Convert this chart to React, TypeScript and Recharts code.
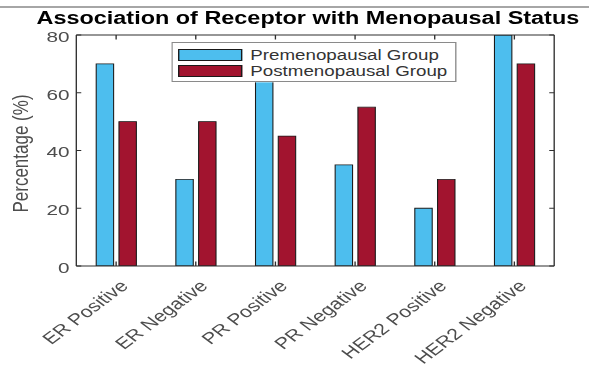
import { Bar, BarChart, Label, Legend, XAxis, YAxis } from "recharts";

const categories = [
  "ER Positive",
  "ER Negative",
  "PR Positive",
  "PR Negative",
  "HER2 Positive",
  "HER2 Negative",
];
const premenopausal = [70, 30, 65, 35, 20, 80];
const postmenopausal = [50, 50, 45, 55, 30, 70];
const yTicks = [0, 20, 40, 60, 80];
const seriesNames = ["Premenopausal Group", "Postmenopausal Group"];

const data = categories.map((name, i) => ({
  name,
  pre: premenopausal[i],
  post: postmenopausal[i],
}));

// the reference image is stretched sideways, so the chart is drawn narrow and scaled
const innerWidth = 440;
const stretch = 589 / innerWidth;
const font = '"Liberation Sans", Arial, Helvetica, sans-serif';
const axisColor = "#2e2e2e";
const textColor = "#4d4d4d";

const BottomTick = ({ x, y, payload }: any) => {
  const tx = x + 6;
  const ty = y + 17;
  return (
    <g>
      <line x1={x} x2={x} y1={y} y2={y - 4.5} stroke={axisColor} />
      <text
        x={tx}
        y={ty}
        transform={`rotate(-45 ${tx} ${ty})`}
        textAnchor="end"
        dominantBaseline="central"
        fontSize={16}
        fontFamily={font}
        fill={textColor}
      >
        {payload.value}
      </text>
    </g>
  );
};

const TopTick = ({ x, y }: any) => (
  <line x1={x} x2={x} y1={y} y2={y + 4.5} stroke={axisColor} />
);

const LeftTick = ({ x, y, payload }: any) => (
  <g>
    <line x1={x} x2={x + 3.7} y1={y} y2={y} stroke={axisColor} />
    <text
      x={x - 5}
      y={y + 1.5}
      textAnchor="end"
      dominantBaseline="central"
      fontSize={15.5}
      fontFamily={font}
      fill={textColor}
    >
      {payload.value}
    </text>
  </g>
);

const RightTick = ({ x, y }: any) => (
  <line x1={x} x2={x - 3.7} y1={y} y2={y} stroke={axisColor} />
);

const YLabel = ({ viewBox }: any) => {
  const cx = viewBox.x + 15;
  const cy = viewBox.y + viewBox.height / 2 + 3;
  return (
    <text
      x={cx}
      y={cy}
      transform={`rotate(-90 ${cx} ${cy})`}
      textAnchor="middle"
      dominantBaseline="central"
      fontSize={17}
      fontFamily={font}
      fill={textColor}
    >
      Percentage (%)
    </text>
  );
};

const LegendBox = ({ payload }: any) => {
  const items = seriesNames
    .map((n) => (payload || []).find((e: any) => e.value === n))
    .filter(Boolean);
  return (
    <div
      style={{
        width: 213,
        height: 40,
        boxSizing: "border-box",
        border: "1px solid #8a8a8a",
        background: "#fff",
        padding: "4px 0 0 4px",
        fontFamily: font,
        fontSize: 14,
        color: "#333",
      }}
    >
      {items.map((entry: any) => (
        <div
          key={entry.value}
          style={{ display: "flex", alignItems: "center", height: 16 }}
        >
          <span
            style={{
              display: "inline-block",
              width: 48,
              height: 12,
              boxSizing: "border-box",
              border: "1px solid #1a1a1a",
              background: entry.color,
              marginRight: 6,
            }}
          />
          <span style={{ lineHeight: "16px" }}>{entry.value}</span>
        </div>
      ))}
    </div>
  );
};

export default function App() {
  return (
    <div
      style={{
        position: "absolute",
        left: 0,
        top: 0,
        width: 589,
        height: 365,
        overflow: "hidden",
        background: "#fff",
      }}
    >
      <div
        style={{
          position: "relative",
          width: innerWidth,
          height: 365,
          transform: `scaleX(${stretch})`,
          transformOrigin: "0 0",
        }}
      >
        <div
          style={{
            position: "absolute",
            left: 0,
            top: 6,
            width: innerWidth,
            height: 1.5,
            background: "#a6a6a6",
          }}
        />
        <div
          style={{
            position: "absolute",
            left: 0,
            top: 9,
            width: 460,
            textAlign: "center",
            fontFamily: font,
            fontWeight: 700,
            fontSize: 17.5,
            lineHeight: "19px",
            color: "#000",
            whiteSpace: "nowrap",
            zIndex: 2,
          }}
        >
          Association of Receptor with Menopausal Status
        </div>
        <BarChart
          width={innerWidth}
          height={365}
          data={data}
          margin={{ top: 34, right: 25, bottom: 0, left: 0 }}
          barCategoryGap="25%"
          barGap={4}
        >
          <XAxis
            dataKey="name"
            height={99}
            tickSize={0}
            tickMargin={0}
            tickLine={false}
            interval={0}
            axisLine={{ stroke: axisColor }}
            tick={BottomTick}
          />
          <XAxis
            xAxisId="top"
            dataKey="name"
            orientation="top"
            height={1}
            tickSize={0}
            tickMargin={0}
            tickLine={false}
            interval={0}
            axisLine={{ stroke: axisColor }}
            tick={TopTick}
          />
          <YAxis
            width={57}
            domain={[0, 80]}
            ticks={yTicks}
            allowDataOverflow
            tickSize={0}
            tickMargin={0}
            tickLine={false}
            axisLine={{ stroke: axisColor }}
            tick={LeftTick}
          >
            <Label content={YLabel} />
          </YAxis>
          <YAxis
            yAxisId="right"
            orientation="right"
            width={1}
            domain={[0, 80]}
            ticks={yTicks}
            allowDataOverflow
            tickSize={0}
            tickMargin={0}
            tickLine={false}
            axisLine={{ stroke: axisColor }}
            tick={RightTick}
          />
          <Legend
            layout="horizontal"
            verticalAlign="middle"
            align="center"
            content={LegendBox}
            wrapperStyle={{ left: 128, top: 42, width: 213, height: 40 }}
          />
          <Bar
            dataKey="pre"
            name="Premenopausal Group"
            fill="#4DBEEE"
            stroke="#1a1a1a"
            strokeWidth={0.8}
            isAnimationActive={false}
          />
          <Bar
            dataKey="post"
            name="Postmenopausal Group"
            fill="#A2142F"
            stroke="#1a1a1a"
            strokeWidth={0.8}
            isAnimationActive={false}
          />
          {/* invisible series so the top and right box axes get drawn */}
          <Bar
            xAxisId="top"
            yAxisId="right"
            dataKey="post"
            fill="none"
            stroke="none"
            legendType="none"
            isAnimationActive={false}
          />
        </BarChart>
      </div>
    </div>
  );
}
